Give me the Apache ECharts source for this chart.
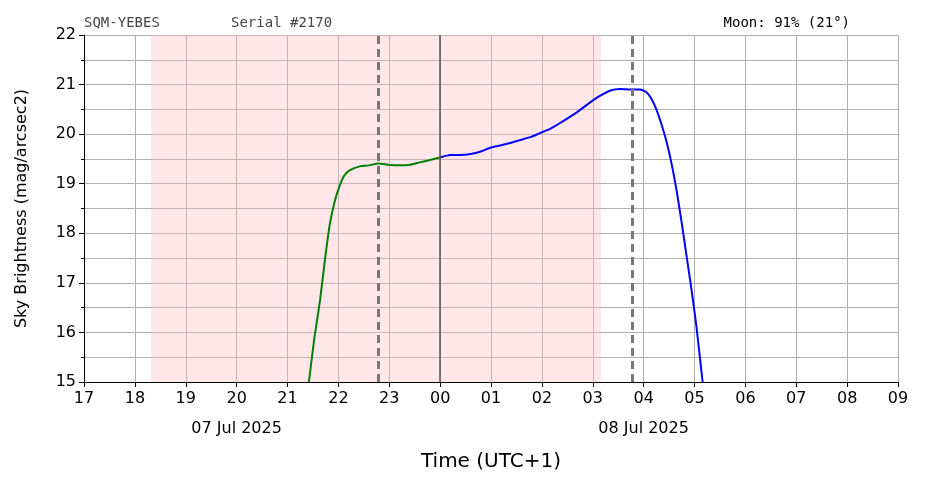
<!DOCTYPE html><html><head><meta charset="utf-8">
<script src="https://cdn.jsdelivr.net/npm/echarts@6/dist/echarts.min.js"></script>
<style>body{margin:0}#c{width:926px;height:487px}</style></head><body><div id="c"></div>
<script>
const greenX=[21.42,21.53,21.64,21.74,21.83,21.93,22.03,22.12,22.22,22.42,22.6,22.78,23.0,23.2,23.4,23.6,23.8,24.0];
const greenY=[15,15.9,16.65,17.5,18.17,18.65,18.97,19.17,19.27,19.35,19.37,19.41,19.38,19.37,19.38,19.43,19.48,19.53];
const blueX=[24.0,24.2,24.4,24.6,24.8,25.0,25.3,25.57,25.8,25.96,26.15,26.35,26.55,26.74,26.95,27.14,27.35,27.53,27.75,27.93,28.05,28.15,28.25,28.35,28.45,28.55,28.65,28.75,28.85,28.95,29.04,29.1,29.16];
const blueY=[19.53,19.58,19.58,19.6,19.65,19.73,19.8,19.88,19.95,20.02,20.1,20.22,20.35,20.48,20.64,20.77,20.88,20.91,20.9,20.9,20.85,20.72,20.5,20.2,19.85,19.4,18.85,18.2,17.5,16.8,16.1,15.55,15];
const shade=[18.32,27.16];
const dashed=[22.78,27.77];
const midnight=24;
const dateLabels={20:'07 Jul 2025',28:'08 Jul 2025'};
const mono='DejaVu Sans Mono';
const ch=echarts.init(document.getElementById('c'));
ch.setOption({
 animation:false,
 grid:{left:84,right:28,top:35,bottom:105},
 graphic:[
  {type:'text',left:84,top:16,style:{text:'SQM-YEBES',font:'14px '+mono,fill:'#444'}},
  {type:'text',left:231,top:16,style:{text:'Serial #2170',font:'14px '+mono,fill:'#444'}},
  {type:'text',right:76,top:16,style:{text:'Moon: 91% (21°)',font:'14px '+mono,fill:'#000'}}
 ],
 xAxis:{type:'value',min:17,max:33,interval:1,
  name:'Time (UTC+1)',nameLocation:'middle',nameGap:70,nameTextStyle:{fontSize:20,color:'#000',fontFamily:'DejaVu Sans'},
  axisLine:{lineStyle:{color:'#000'}},axisTick:{length:5,lineStyle:{color:'#000'}},
  axisLabel:{color:'#000',fontSize:16,fontFamily:'DejaVu Sans',lineHeight:30,margin:2,
   formatter:v=>{const h=String(v%24).padStart(2,'0');return dateLabels[v]?h+'\n'+dateLabels[v]:h;}},
  splitLine:{show:true,lineStyle:{color:'#b0b0b0'}}},
 yAxis:{type:'value',min:15,max:22,interval:1,
  name:'Sky Brightness (mag/arcsec2)',nameLocation:'middle',nameGap:54,nameTextStyle:{fontSize:16,color:'#000',fontFamily:'DejaVu Sans'},
  axisLine:{show:true,lineStyle:{color:'#000'}},axisTick:{length:5,lineStyle:{color:'#000'}},
  minorTick:{show:true,splitNumber:2,length:3,lineStyle:{color:'#000'}},
  minorSplitLine:{show:true,lineStyle:{color:'#b0b0b0'}},
  axisLabel:{color:'#000',fontSize:16,fontFamily:'DejaVu Sans'},
  splitLine:{show:true,lineStyle:{color:'#b0b0b0'}}},
 series:[
  {type:'line',data:greenX.map((x,i)=>[x,greenY[i]]),showSymbol:false,smooth:0.2,lineStyle:{color:'green',width:2},
   markArea:{silent:true,itemStyle:{color:'rgba(255,182,193,0.35)'},data:[[{xAxis:shade[0]},{xAxis:shade[1]}]]},
   markLine:{silent:true,symbol:'none',label:{show:false},data:[
    ...dashed.map(d=>({xAxis:d,lineStyle:{color:'#777',type:[8,5],width:3}})),
    {xAxis:midnight,lineStyle:{color:'#555',type:'solid',width:1.5}}]}},
  {type:'line',data:blueX.map((x,i)=>[x,blueY[i]]),showSymbol:false,smooth:0.2,lineStyle:{color:'blue',width:2}}
 ]
});
</script></body></html>
